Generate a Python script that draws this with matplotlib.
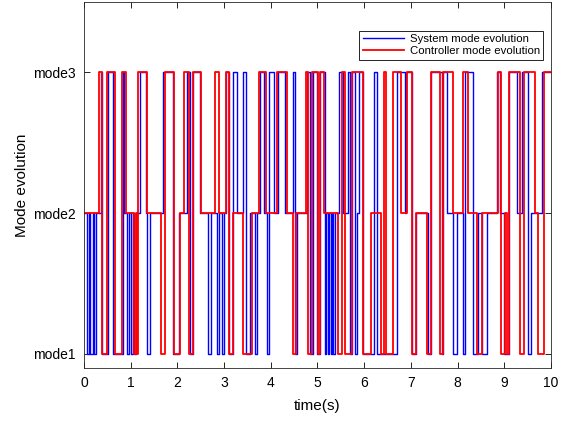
import matplotlib
matplotlib.use('Agg')
import matplotlib.pyplot as plt
import numpy as np

plt.rcParams['font.family'] = ['Liberation Sans', 'DejaVu Sans']

############# DATA (switch times [s] and mode after switch) #############

sys_t = [0.00, 0.07, 0.11, 0.14, 0.19, 0.21, 0.26, 0.36, 0.39, 0.52, 0.63, 0.83, 0.86,
         0.93, 0.97, 1.00, 1.05, 1.07, 1.12, 1.20, 1.32, 1.36, 1.41, 1.70, 1.90, 2.04,
         2.20, 2.28, 2.33, 2.49, 2.66, 2.71, 2.85, 2.89, 2.95, 3.00, 3.05, 3.10, 3.20,
         3.27, 3.41, 3.47, 3.56, 3.66, 3.71, 3.78, 3.85, 3.91, 3.97, 4.07, 4.16, 4.30,
         4.47, 4.52, 4.56, 4.77, 4.83, 4.90, 4.99, 5.05, 5.16, 5.19, 5.22, 5.25, 5.28,
         5.31, 5.34, 5.38, 5.46, 5.54, 5.66, 5.70, 5.74, 5.80, 5.84, 5.88, 5.98, 6.22,
         6.27, 6.71, 6.87, 6.90, 7.02, 7.11, 7.37, 7.44, 7.66, 7.69, 7.78, 7.91, 7.99,
         8.12, 8.16, 8.32, 8.44, 8.52, 8.64, 8.84, 8.91, 9.00, 9.09, 9.27, 9.37, 9.51,
         9.57, 9.80, 10.00]
sys_m = [2, 1, 2, 1, 2, 1, 2, 3, 1, 3, 1, 3, 2,
         1, 2, 1, 2, 1, 2, 3, 2, 1, 2, 3, 1, 2,
         3, 1, 3, 2, 1, 2, 1, 2, 1, 2, 3, 1, 3,
         2, 3, 1, 2, 1, 2, 3, 2, 1, 3, 2, 3, 2,
         3, 1, 2, 3, 1, 3, 1, 3, 1, 2, 1, 2, 1,
         2, 1, 2, 3, 2, 3, 1, 3, 1, 2, 3, 1, 3,
         1, 3, 2, 3, 1, 2, 1, 3, 1, 3, 2, 1, 2,
         1, 3, 1, 2, 1, 2, 3, 2, 1, 3, 2, 3, 1,
         2, 3, 3]

ctrl_t = [0.00, 0.32, 0.39, 0.49, 0.66, 0.81, 0.89, 1.08, 1.11, 1.13, 1.16, 1.34, 1.66,
          1.73, 1.93, 2.06, 2.14, 2.24, 2.34, 2.50, 2.81, 2.90, 3.05, 3.10, 3.20, 3.41,
          3.59, 3.75, 3.90, 4.14, 4.34, 4.48, 4.55, 4.75, 4.80, 4.88, 5.01, 5.06, 5.14,
          5.45, 5.52, 5.59, 5.73, 5.98, 6.15, 6.37, 6.42, 6.47, 6.61, 6.78, 6.91, 7.02,
          7.11, 7.34, 7.44, 7.62, 7.69, 7.91, 8.12, 8.23, 8.41, 8.53, 8.86, 8.93, 9.01,
          9.05, 9.09, 9.34, 9.43, 9.66, 9.73, 9.84, 10.00]
ctrl_m = [2, 3, 1, 3, 1, 3, 2, 1, 2, 1, 3, 2, 1,
          3, 1, 2, 3, 1, 3, 2, 3, 2, 3, 1, 2, 1,
          2, 3, 2, 3, 2, 1, 2, 3, 1, 3, 1, 3, 2,
          1, 3, 1, 3, 1, 2, 1, 3, 1, 3, 2, 3, 1,
          2, 1, 3, 1, 3, 2, 3, 2, 1, 2, 3, 1, 2,
          1, 3, 1, 3, 2, 1, 3, 3]

mode_labels = ['mode1', 'mode2', 'mode3']

############# PLOT #############

fig = plt.figure(figsize=(5.71, 4.23), dpi=100)
ax = fig.add_axes([0.147, 0.130, 0.818, 0.866])

ax.step(sys_t, sys_m, where='post', color='#0000ff', lw=1.0, label='System mode evolution')
ax.step(ctrl_t, ctrl_m, where='post', color='#ff0000', lw=1.3, label='Controller mode evolution')

ax.set_xlim(0, 10)
ax.set_ylim(0.9, 3.5)
ax.set_xticks(np.arange(0, 11, 1))
ax.set_yticks([1, 2, 3])
ax.set_yticklabels(mode_labels)
ax.tick_params(direction='in', top=True, right=True, labelsize=10, length=4, width=0.6, pad=6)
for s in ax.spines.values():
    s.set_linewidth(0.6)
    s.set_color('#262626')

ax.set_xlabel('time(s)', fontsize=11, labelpad=6)
ax.set_ylabel('Mode evolution', fontsize=11, labelpad=3)

leg = ax.legend(loc='upper right', bbox_to_anchor=(0.983, 0.92), fontsize=8.2, fancybox=False,
                edgecolor='black', framealpha=1, borderaxespad=0, handlelength=3.6,
                handletextpad=0.5, labelspacing=0.15, borderpad=0.3)
leg.get_frame().set_linewidth(0.6)

fig.savefig('out.png', dpi=100)
